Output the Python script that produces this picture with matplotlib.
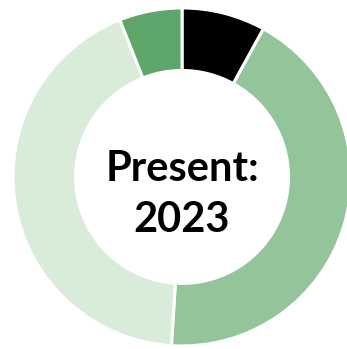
import matplotlib.pyplot as plt

# share of each segment, clockwise from the top
segments = ["Black", "Mid green", "Light green", "Dark green"]
shares = [8, 43, 43, 6]
colors = ["#000000", "#93c49a", "#d9ebd9", "#5fa66a"]

center_lines = ["Present:", "2023"]

fig = plt.figure(figsize=(3.47, 3.49), dpi=100)
ax = fig.add_axes([0, 0, 1, 1])

ax.pie(shares, colors=colors, startangle=90, counterclock=False,
       radius=1.0,
       wedgeprops=dict(width=0.37, edgecolor="white", linewidth=2.2))

# ring is clipped slightly on the right and bottom
ax.set_xlim(-1.077, 0.976)
ax.set_ylim(-1.018, 1.047)
ax.set_aspect("equal")
ax.axis("off")

ax.text(0.0, 0.05, center_lines[0], ha="center", va="center",
        fontsize=30, fontweight="bold", family="Lato", color="black")
ax.text(0.0, -0.255, center_lines[1], ha="center", va="center",
        fontsize=30, fontweight="bold", family="Lato", color="black")

fig.savefig("out.png", dpi=100)
